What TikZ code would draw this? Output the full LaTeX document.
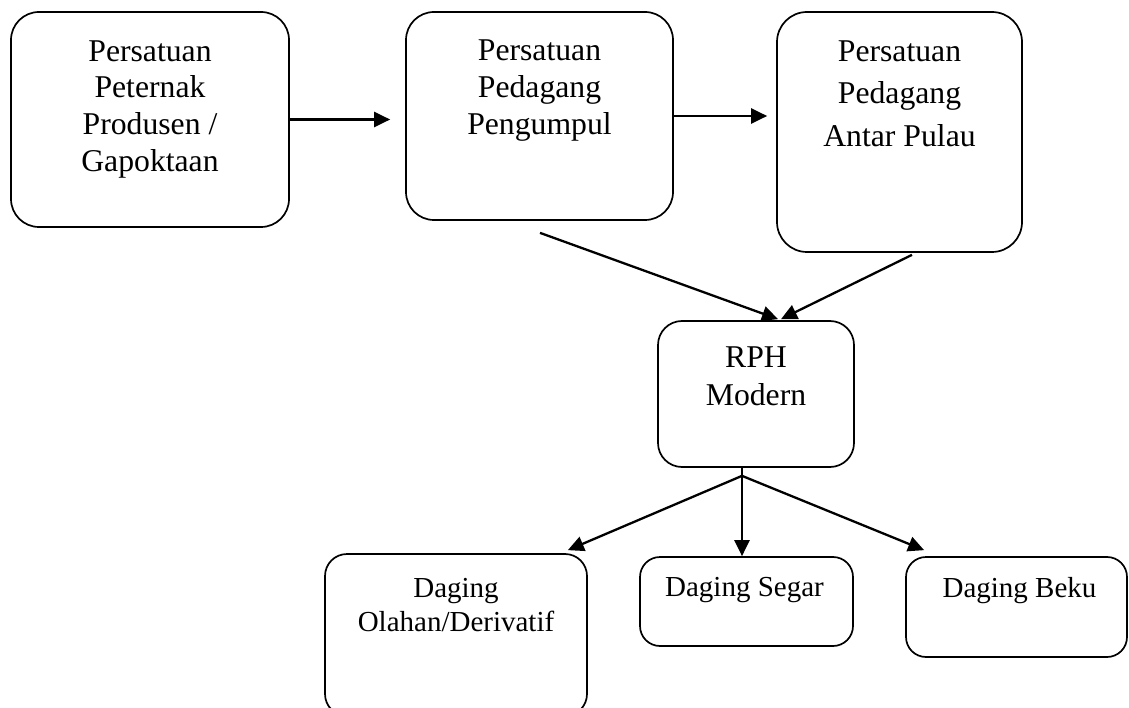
\documentclass[tikz,border=0pt]{standalone}
\usepackage{fontspec}
\setmainfont{Liberation Serif}
\usetikzlibrary{arrows.meta,calc}

\begin{document}
\begin{tikzpicture}[x=1pt,y=-1pt,%%
  boxStyle/.style={draw,line width=1.7pt,rounded corners=#1,inner sep=0pt},%%
  boxStyle/.default=28pt,%%
  bigText/.style={align=center,anchor=base,inner sep=0pt,font=\fontsize{31.7}{36.7}\selectfont},%%
  smallText/.style={align=center,anchor=base,inner sep=0pt,font=\fontsize{29}{34}\selectfont},%%
  arrowStyle/.style={-{Triangle[length=16pt,width=15pt]},line width=2.3pt}%%
]
%%
%%
\pgfmathsetmacro{\pageW}{1129}
\pgfmathsetmacro{\pageH}{708}
%%
\useasboundingbox (0,0) rectangle (\pageW,\pageH);
%%
%% Draw the upper row of boxes (text placed by its last baseline).
\node[boxStyle,minimum width=278pt,minimum height=215pt] (peternak) at (150,119.5) {};
\node[boxStyle,minimum width=267pt,minimum height=208pt] (pengumpul) at (539.5,116) {};
\node[boxStyle=30pt,minimum width=245pt,minimum height=240pt] (antarPulau) at (899.5,132) {};
\node[bigText] (peternakText) at ($(peternak.north)+(0,160)$) {Persatuan\\Peternak\\Produsen /\\Gapoktaan};
\node[bigText] (pengumpulText) at ($(pengumpul.north)+(0,123)$) {Persatuan\\Pedagang\\Pengumpul};
\node[bigText,font=\fontsize{31.7}{42.5}\selectfont] (antarPulauText) at ($(antarPulau.north)+(0,135)$) {Persatuan\\Pedagang\\Antar Pulau};
%%
%% Draw the slaughterhouse box.
\node[boxStyle=24pt,minimum width=196pt,minimum height=146pt] (rph) at (756,394) {};
\node[bigText,font=\fontsize{31.7}{38}\selectfont] (rphText) at ($(rph.north)+(0,85)$) {RPH\\Modern};
%%
%% Draw the lower row of boxes.
\node[boxStyle=22pt,minimum width=262pt,minimum height=162pt] (olahan) at (456,635) {};
\node[boxStyle=20pt,minimum width=213pt,minimum height=89pt] (segar) at (746.5,601.5) {};
\node[boxStyle=20pt,minimum width=221pt,minimum height=100pt] (beku) at (1016.5,607) {};
\node[smallText] (olahanText) at ($(olahan.north)+(0,78)$) {Daging\\Olahan/Derivatif};
\node[smallText] (segarText) at ($(segar.north)+(-2,40)$) {Daging Segar};
\node[smallText] (bekuText) at ($(beku.north)+(3,41)$) {Daging Beku};
%%
%% Free ends of the slanted arrows.
\coordinate (pengumpulOut) at ($(pengumpul.south)+(0.5,12)$);
\coordinate (antarPulauOut) at ($(antarPulau.south)+(12.5,2)$);
\coordinate (rphInA) at ($(rph.north)+(22,-1)$);
\coordinate (rphInB) at ($(rph.north)+(25,-1)$);
\coordinate (rphOut) at ($(rph.south)+(-14,8)$);
%%
%% Arrows along the upper row.
\draw[arrowStyle,shorten >=15pt] (peternak.east) -- (peternak.east -| pengumpul.west);
\draw[arrowStyle,shorten >=9pt] (pengumpul.east) -- (pengumpul.east -| antarPulau.west);
%% Arrows into the slaughterhouse.
\draw[arrowStyle] (pengumpulOut) -- (rphInA);
\draw[arrowStyle] (antarPulauOut) -- (rphInB);
%% Arrows out of the slaughterhouse.
\draw[arrowStyle] (rphOut) -- ($(olahan.north east)+(-20,-3)$);
\draw[arrowStyle] (rph.south -| rphOut) -- (rphOut |- segar.north);
\draw[arrowStyle] (rphOut) -- ($(beku.north west)+(19,-6)$);
\end{tikzpicture}
\end{document}
